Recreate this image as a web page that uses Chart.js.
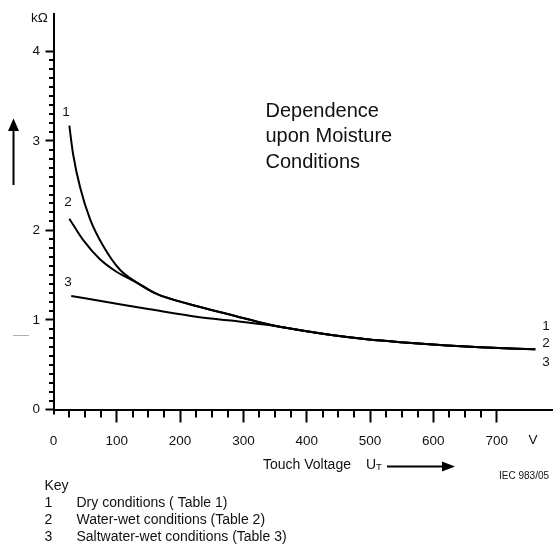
<!DOCTYPE html>
<html>
<head>
<meta charset="utf-8">
<script src="https://cdn.jsdelivr.net/npm/chart.js@4.4.1/dist/chart.umd.min.js"></script>
<style>
  html, body { margin: 0; padding: 0; background: #fff; }
  #wrap { position: relative; width: 553px; height: 550px; }
</style>
</head>
<body>
<div id="wrap"><canvas id="c" width="553" height="550"></canvas></div>
<script>
// ---- Data ----
const dryVoltage        = [25, 31, 42, 58, 79, 105, 131, 163, 215, 284, 337, 390, 442, 495, 548, 622, 674, 761];
const dryResistance     = [3.17, 2.85, 2.48, 2.12, 1.82, 1.56, 1.42, 1.29, 1.175, 1.05, 0.955, 0.885, 0.83, 0.785, 0.752, 0.715, 0.695, 0.672];
const waterVoltage      = [25, 47, 73, 100, 121, 140, 163, 215, 284, 337, 390, 442, 495, 548, 622, 674, 761];
const waterResistance   = [2.13, 1.89, 1.68, 1.535, 1.455, 1.383, 1.29, 1.175, 1.05, 0.955, 0.885, 0.83, 0.785, 0.752, 0.715, 0.695, 0.672];
const saltVoltage       = [28, 100, 152, 231, 284, 337, 390, 442, 495, 548, 622, 674, 761];
const saltResistance    = [1.268, 1.18, 1.118, 1.03, 0.99, 0.945, 0.885, 0.83, 0.785, 0.752, 0.715, 0.695, 0.672];

const xTicks = [0, 100, 200, 300, 400, 500, 600, 700];
const yTicks = [0, 1, 2, 3, 4];
const keyNumbers = ['1', '2', '3'];
const keyLabels = ['Dry conditions ( Table 1)', 'Water-wet conditions (Table 2)', 'Saltwater-wet conditions (Table 3)'];
const titleLines = ['Dependence', 'upon Moisture', 'Conditions'];

const X_MAX = 789;
const Y_MAX = 4.42;
const FONT = '"Liberation Sans", Arial, Helvetica, sans-serif';

function pts(xs, ys) { return xs.map((x, i) => ({ x: x, y: ys[i] })); }

function ds(xs, ys) {
  return {
    data: pts(xs, ys),
    borderColor: '#000',
    borderWidth: 2,
    pointRadius: 0,
    fill: false,
    cubicInterpolationMode: 'monotone'
  };
}

const extras = {
  id: 'extras',
  afterDraw(chart) {
    const ctx = chart.ctx;
    const x = chart.scales.x, y = chart.scales.y;
    const area = chart.chartArea;
    ctx.save();
    // minor ticks x
    ctx.strokeStyle = '#000';
    ctx.lineWidth = 2;
    ctx.beginPath();
    for (let v = 0; v < 700; v += 25) {
      if (v % 100 === 0 && v !== 0) continue;
      const px = Math.round(x.getPixelForValue(v));
      ctx.moveTo(px, area.bottom);
      ctx.lineTo(px, area.bottom + (v === 0 ? 5 : 8));
    }
    // minor ticks y
    for (let i = 1; i < 40; i++) {
      if (i % 10 === 0) continue;
      const py = Math.round(y.getPixelForValue(i / 10));
      ctx.moveTo(area.left, py);
      ctx.lineTo(area.left - 4.5, py);
    }
    ctx.stroke();

    ctx.fillStyle = '#111';
    ctx.textBaseline = 'middle';
    // unit labels
    ctx.font = '13.5px ' + FONT;
    ctx.textAlign = 'left';
    ctx.fillText('kΩ', 31, 18);
    ctx.fillText('V', 528.5, 440.7);

    // curve number labels
    ctx.textAlign = 'center';
    ctx.fillText('1', 66, 112);
    ctx.fillText('2', 68, 202);
    ctx.fillText('3', 68, 282);
    ctx.fillText('1', 546, 326);
    ctx.fillText('2', 546, 343.5);
    ctx.fillText('3', 546, 362);

    // chart inner title
    ctx.font = '20px ' + FONT;
    ctx.textAlign = 'left';
    titleLines.forEach((t, i) => ctx.fillText(t, 265.5, 111 + i * 25.5));

    // x axis title with arrow
    ctx.font = '14px ' + FONT;
    ctx.fillText('Touch Voltage', 263, 465.5);
    ctx.fillText('U', 366, 465.5);
    ctx.font = '9.5px ' + FONT;
    ctx.fillText('T', 376, 467.5);
    ctx.lineWidth = 2;
    ctx.beginPath();
    ctx.moveTo(387, 466.5);
    ctx.lineTo(444, 466.5);
    ctx.stroke();
    ctx.fillStyle = '#000';
    ctx.beginPath();
    ctx.moveTo(455, 466.5);
    ctx.lineTo(442, 461.5);
    ctx.lineTo(442, 471.5);
    ctx.closePath();
    ctx.fill();

    // y direction arrow
    ctx.beginPath();
    ctx.moveTo(13.5, 185);
    ctx.lineTo(13.5, 129);
    ctx.stroke();
    ctx.beginPath();
    ctx.moveTo(13.5, 118.5);
    ctx.lineTo(8, 131);
    ctx.lineTo(19, 131);
    ctx.closePath();
    ctx.fill();

    // faint scan marks
    ctx.strokeStyle = 'rgba(120,120,120,0.6)';
    ctx.lineWidth = 1;
    ctx.beginPath();
    ctx.moveTo(13, 335.5);
    ctx.lineTo(29, 335.5);
    ctx.stroke();

    // source tag
    ctx.fillStyle = '#111';
    ctx.font = '10px ' + FONT;
    ctx.fillText('IEC 983/05', 499, 476);

    // key
    ctx.font = '14px ' + FONT;
    ctx.fillText('Key', 44.5, 486.5);
    keyNumbers.forEach((n, i) => {
      const yy = 503 + i * 17.3;
      ctx.fillText(n, 44.5, yy);
      ctx.fillText(keyLabels[i], 76.5, yy);
    });
    ctx.restore();
  }
};

new Chart(document.getElementById('c'), {
  type: 'line',
  data: {
    datasets: [
      ds(dryVoltage, dryResistance),
      ds(waterVoltage, waterResistance),
      ds(saltVoltage, saltResistance)
    ]
  },
  options: {
    responsive: false,
    animation: false,
    events: [],
    layout: { padding: { top: 8, right: 0, bottom: 0, left: 0 } },
    plugins: { legend: { display: false }, tooltip: { enabled: false }, title: { display: false } },
    scales: {
      x: {
        type: 'linear',
        min: 0,
        max: X_MAX,
        afterFit(s) { s.height = 140.5; },
        afterBuildTicks(s) { s.ticks = xTicks.map(v => ({ value: v })); },
        border: { display: true, color: '#000', width: 2 },
        grid: {
          drawOnChartArea: false,
          drawTicks: true,
          tickLength: 13,
          tickWidth: 2,
          tickColor: (c) => (c.tick && c.tick.value === 0 ? 'rgba(0,0,0,0)' : '#000')
        },
        ticks: {
          color: '#111',
          padding: 11,
          maxRotation: 0,
          autoSkip: false,
          font: { family: FONT, size: 13.5 },
          callback: (v) => String(v)
        }
      },
      y: {
        type: 'linear',
        min: 0,
        max: Y_MAX,
        afterFit(s) { s.width = 53.5; },
        afterBuildTicks(s) { s.ticks = yTicks.map(v => ({ value: v })); },
        border: { display: true, color: '#000', width: 2 },
        grid: {
          drawOnChartArea: false,
          drawTicks: true,
          tickLength: 8,
          tickWidth: 2,
          tickColor: '#000'
        },
        ticks: {
          color: '#111',
          padding: 5.5,
          autoSkip: false,
          font: { family: FONT, size: 13.5 },
          callback: (v) => String(v)
        }
      }
    }
  },
  plugins: [extras]
});
</script>
</body>
</html>
